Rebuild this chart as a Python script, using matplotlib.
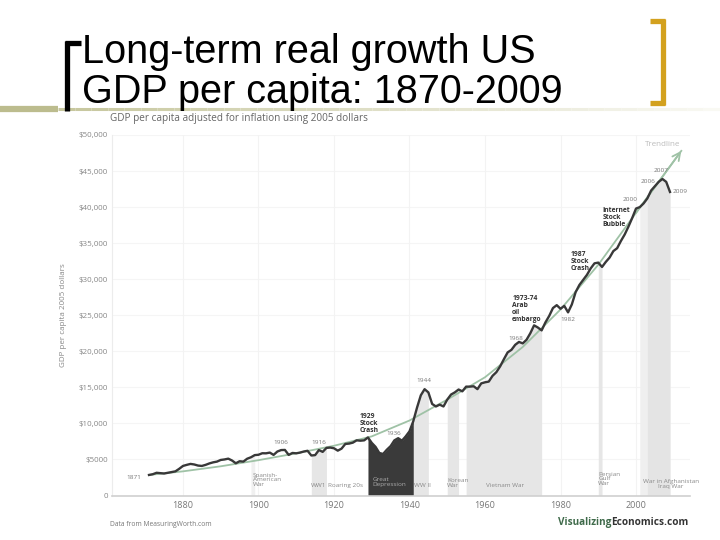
import numpy as np
import matplotlib.pyplot as plt

# GDP per capita, 2005 dollars
years = np.arange(1871, 2010)
gdp = np.array([
    2850, 2950, 3150, 3100, 3050, 3150, 3250, 3350, 3700,
    4100, 4250, 4380, 4300, 4150, 4100, 4250, 4450, 4600, 4700,
    4930, 5000, 5110, 4850, 4470, 4750, 4700, 5100, 5300, 5600,
    5650, 5860, 5850, 5950, 5630, 6100, 6300, 6320, 5630, 5900,
    5850, 5950, 6100, 6200, 5550, 5600, 6300, 6050, 6600, 6650,
    6550, 6220, 6500, 7150, 7200, 7330, 7650, 7600, 7650, 8050,
    7300, 6750, 5900, 5760, 6350, 6850, 7650, 7950, 7600, 8200,
    8900, 10300, 12200, 13900, 14750, 14300, 12700, 12350, 12600, 12350,
    13300, 14000, 14300, 14700, 14450, 15100, 15100, 15150, 14750, 15550,
    15700, 15800, 16600, 17100, 17900, 18900, 19850, 20200, 20900, 21300,
    21100, 21600, 22500, 23600, 23300, 22900, 24000, 24900, 26000, 26400,
    25900, 26300, 25400, 26500, 28200, 29200, 29900, 30600, 31500, 32200,
    32300, 31700, 32400, 33000, 33900, 34300, 35300, 36200, 37300, 38500,
    39800, 40000, 40500, 41200, 42300, 42900, 43500, 43900, 43500, 42100,
])

trend_years = [1871, 1880, 1890, 1900, 1910, 1920, 1930, 1940, 1950, 1960,
               1970, 1980, 1990, 2000, 2012]
trend_vals = [2850, 3350, 4050, 4900, 5850, 6900, 8200, 10400, 13300, 16400,
              20600, 25800, 32000, 39200, 47800]

# shaded periods (start, end)
band_periods = [(1898, 1899), (1914, 1918), (1941, 1945), (1950, 1953),
                (1955, 1975), (1990, 1991), (2001, 2009), (2003, 2009)]
band_colors = ['#f0f0f0', '#e6e6e6', '#e6e6e6', '#e6e6e6',
               '#e6e6e6', '#e6e6e6', '#efefef', '#e4e4e4']
depression = (1929, 1941)

xticks = [1880, 1900, 1920, 1940, 1960, 1980, 2000]
yticks = list(range(0, 50001, 5000))
ytick_labels = ['0', '$5000', '$10,000', '$15,000', '$20,000', '$25,000',
                '$30,000', '$35,000', '$40,000', '$45,000', '$50,000']

year_notes = [('1871', 1867, 2470), ('1906', 1905.8, 7390), ('1916', 1916, 7390),
              ('1936', 1935.9, 8640), ('1944', 1943.9, 15900), ('1968', 1968.1, 21830),
              ('1982', 1981.9, 24380), ('2000', 1998.5, 41040), ('2006', 2003.1, 43580),
              ('2007', 2006.6, 45070), ('2009', 2011.7, 42120)]
event_notes = [('1929\nStock\nCrash', 1926.9, 10030),
               ('1973-74\nArab\noil\nembargo', 1967.2, 25860),
               ('1987\nStock\nCrash', 1982.7, 32480),
               ('Internet\nStock\nBubble', 1991.2, 38500)]
war_notes = [('Spanish-\nAmerican\nWar', 1898.5, 2150, 'left'),
             ('WW1', 1916, 1320, 'center'),
             ('Roaring 20s', 1923.1, 1320, 'center'),
             ('WW II', 1943.4, 1320, 'center'),
             ('Korean\nWar', 1950.0, 1736, 'left'),
             ('Vietnam War', 1965.2, 1417, 'center'),
             ('Persian\nGulf\nWar', 1990.0, 2290, 'left'),
             ('War in Afghanistan\nIraq War', 2009.2, 1640, 'center')]

cfont = 'Open Sans'

fig = plt.figure(figsize=(7.2, 5.4), dpi=100)
ax = fig.add_axes([112 / 720, 1 - 495.5 / 540, 578 / 720, 360.5 / 540])
ax.set_xlim(1861.2, 2014.3)
ax.set_ylim(0, 50000)

for v in yticks[1:]:
    ax.axhline(v, color='#f5f5f5', lw=0.8, zorder=0)
for v in xticks:
    ax.axvline(v, color='#f3f3f3', lw=0.8, zorder=0)

for (a, b), c in zip(band_periods, band_colors):
    m = (years >= a) & (years <= b)
    ax.fill_between(years[m], gdp[m], color=c, lw=0, zorder=1)
m = (years >= depression[0]) & (years <= depression[1])
ax.fill_between(years[m], gdp[m], color='#3a3a3a', lw=0, zorder=1.5)

ax.plot(trend_years, trend_vals, color='#9fc2a6', lw=1.3, zorder=2)
ax.annotate('', xy=(trend_years[-1], trend_vals[-1]),
            xytext=(trend_years[-2], trend_vals[-2]),
            arrowprops=dict(arrowstyle='->', color='#9fc2a6', lw=1.3,
                            mutation_scale=14, shrinkA=0, shrinkB=0), zorder=2)
ax.plot(years, gdp, color='#383838', lw=1.7, zorder=3, solid_joinstyle='round')

for s in ['top', 'right']:
    ax.spines[s].set_visible(False)
ax.spines['left'].set_color('#ececec')
ax.spines['bottom'].set_color('#d0d0d0')
ax.spines['bottom'].set_linewidth(1.2)

ax.set_xticks(xticks)
ax.set_xticklabels([str(x) for x in xticks], fontsize=6.5, color='#777777', family=cfont)
ax.set_yticks(yticks)
ax.set_yticklabels(ytick_labels, fontsize=5.8, color='#888888', family=cfont)
ax.tick_params(length=0)
ax.tick_params(axis='y', pad=3)
ax.tick_params(axis='x', pad=4)
ax.set_ylabel('GDP per capita 2005 dollars', fontsize=5.8, color='#888888',
              family=cfont, labelpad=8)

for t, x, y in year_notes:
    ax.text(x, y, t, fontsize=4.6, color='#777777', ha='center', va='center',
            family=cfont, zorder=4)
ax.text(2007.1, 48680, 'Trendline', fontsize=5.8, color='#bbbbbb', ha='center',
        va='center', family=cfont, zorder=4)
for t, x, y in event_notes:
    ax.text(x, y, t, fontsize=4.9, color='#333333', ha='left', va='center',
            fontweight='bold', linespacing=1.0, family=cfont, zorder=4)
for t, x, y, ha in war_notes:
    ax.text(x, y, t, fontsize=4.6, color='#8a8a8a', ha=ha, va='center',
            linespacing=0.95, family=cfont, zorder=4)
ax.text(1930.2, 1875, 'Great\nDepression', fontsize=4.6, color='#aaaaaa', ha='left',
        va='center', linespacing=0.95, family=cfont, zorder=4)

# slide decoration, in pixel coordinates
deco = fig.add_axes([0, 0, 1, 1], zorder=-1)
deco.set_xlim(0, 720)
deco.set_ylim(540, 0)
deco.axis('off')
deco.plot([0, 58], [109, 109], color='#bcbc8e', lw=4.5, solid_capstyle='butt')
n = 40
xs = np.linspace(58, 720, n + 1)
for i in range(n):
    f = i / n
    c = (0.78 + 0.2 * f, 0.78 + 0.2 * f, 0.62 + 0.34 * f)
    deco.plot([xs[i], xs[i + 1]], [109, 109], color=c, lw=2.2, solid_capstyle='butt')

deco.plot([67, 67], [41, 111], color='black', lw=3.8, solid_capstyle='butt')
deco.plot([65, 81], [43, 43], color='black', lw=3.8, solid_capstyle='butt')
gold = '#d3a11e'
deco.plot([663, 663], [19, 105], color=gold, lw=3.8, solid_capstyle='butt')
deco.plot([650, 665], [21, 21], color=gold, lw=3.8, solid_capstyle='butt')
deco.plot([650, 665], [103, 103], color=gold, lw=3.8, solid_capstyle='butt')

deco.text(82, 63, 'Long-term real growth US', fontsize=28.5, family='Liberation Sans',
          color='black', va='baseline', ha='left')
deco.text(82, 103, 'GDP per capita: 1870-2009', fontsize=28.5, family='Liberation Sans',
          color='black', va='baseline', ha='left')

deco.text(110, 119, 'GDP per capita adjusted for inflation using 2005 dollars',
          fontsize=7.2, color='#666666', family=cfont, va='center', ha='left')
deco.text(110, 524, 'Data from MeasuringWorth.com', fontsize=4.9, color='#777777',
          family=cfont, va='center', ha='left')
t1 = deco.text(558, 525, 'Visualizing', fontsize=7.2, color='#3f6a4a',
               fontweight='bold', family=cfont, va='baseline', ha='left')
fig.canvas.draw()
bb = t1.get_window_extent()
x_end = deco.transData.inverted().transform((bb.x1, bb.y0))[0]
deco.text(x_end, 525, 'Economics.com', fontsize=7.2, color='#333333',
          fontweight='bold', family=cfont, va='baseline', ha='left')

fig.savefig('out.png', dpi=100, facecolor='white')
